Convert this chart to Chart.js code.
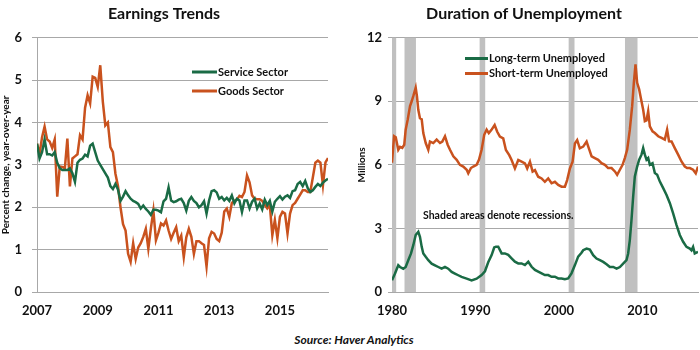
<!DOCTYPE html>
<html>
<head>
<meta charset="utf-8">
<script src="https://cdn.jsdelivr.net/npm/chart.js@4.4.0/dist/chart.umd.min.js"></script>
<style>
  html, body { margin: 0; padding: 0; background: #ffffff; }
  #wrap { position: relative; width: 700px; height: 350px; overflow: hidden; }
  #c1 { position: absolute; left: 0; top: 0; }
  #c2 { position: absolute; left: 350px; top: 0; }
  #source { position: absolute; left: 4px; top: 332px; width: 700px; text-align: center;
            font: italic bold 12px Lato, "Open Sans", sans-serif; color: #111; }
</style>
</head>
<body>
<div id="wrap">
  <canvas id="c1" width="350" height="320" style="width:350px;height:320px"></canvas>
  <canvas id="c2" width="350" height="320" style="width:350px;height:320px"></canvas>
  <div id="source">Source: Haver Analytics</div>
</div>
<script>
// ---------- Earnings Trends (monthly, Jan 2007 - Aug 2016) ----------
const earnStartYear = 2007;
const serviceSector = [
  3.50,3.15,3.30,3.60,3.25,3.25,3.22,3.30,3.05,2.92,2.88,2.88,
  2.88,2.92,2.80,2.60,3.05,3.12,3.15,3.24,3.20,3.45,3.50,3.30,
  3.10,3.00,2.90,2.80,2.70,2.50,2.43,2.55,2.42,2.15,2.25,2.38,
  2.28,2.20,2.15,2.12,2.08,1.97,2.04,1.96,1.90,1.82,1.94,1.94,
  1.92,1.88,2.14,2.20,2.47,2.16,2.12,2.14,2.18,2.20,2.10,1.92,
  2.15,2.24,2.15,2.10,2.00,2.05,2.14,1.85,2.16,2.38,2.40,2.35,
  2.20,2.24,2.16,2.22,2.15,2.28,2.09,2.20,2.16,1.89,2.16,2.16,
  1.97,2.13,2.20,1.97,2.09,1.95,2.18,2.05,2.15,1.90,2.13,2.20,
  2.26,2.18,2.25,2.28,2.22,2.38,2.40,2.55,2.60,2.50,2.62,2.45,
  2.36,2.40,2.48,2.55,2.50,2.58,2.63,2.67
];
const goodsSector = [
  3.50,3.26,3.65,3.90,3.60,3.55,3.40,3.60,2.25,2.96,2.95,2.92,
  3.62,2.49,3.15,3.20,3.25,3.70,3.60,4.35,4.64,4.45,5.08,5.05,
  4.84,5.35,4.50,3.93,4.00,3.42,3.30,2.79,2.50,2.00,1.60,1.45,
  0.90,0.71,1.15,0.78,1.05,1.15,1.30,1.49,1.02,1.50,1.92,1.22,
  1.40,1.62,1.57,1.69,1.45,1.25,1.40,1.53,1.20,1.33,0.82,1.29,
  1.49,1.30,0.90,1.20,1.20,1.15,1.11,0.60,1.27,1.42,1.38,1.25,
  1.20,1.40,1.90,1.97,1.77,2.10,2.15,2.18,2.27,2.24,2.36,2.75,
  2.59,2.28,2.20,2.19,2.19,2.15,2.05,1.97,2.05,1.34,1.70,1.27,
  1.77,1.89,1.85,1.38,1.85,2.05,2.10,2.20,2.30,2.40,2.40,2.36,
  2.36,2.70,3.05,3.10,3.05,2.52,3.06,3.16
];
const earnTicksX = [2007, 2009, 2011, 2013, 2015];
const earnTicksY = [0, 1, 2, 3, 4, 5, 6];

// ---------- Duration of Unemployment (millions) ----------
const shortYears = [
  1980.0,1980.25,1980.45,1980.75,1980.96,1981.23,1981.47,1981.64,1981.88,1982.16,
  1982.36,1982.55,1982.84,1982.99,1983.15,1983.35,1983.56,1983.75,1984.04,1984.35,
  1984.55,1984.95,1985.35,1985.75,1986.03,1986.35,1986.67,1986.95,1987.35,1987.75,
  1988.14,1988.54,1988.95,1989.14,1989.46,1989.74,1990.14,1990.42,1990.74,1991.05,
  1991.34,1991.6,1991.9,1992.3,1992.61,1992.93,1993.33,1993.65,1994.05,1994.33,
  1994.73,1995.13,1995.53,1995.93,1996.2,1996.53,1996.85,1997.13,1997.52,1997.93,
  1998.32,1998.72,1999.12,1999.52,1999.92,2000.32,2000.72,2000.99,2001.32,2001.64,
  2001.92,2002.19,2002.51,2002.91,2003.32,2003.51,2003.92,2004.31,2004.71,2005.11,
  2005.51,2005.9,2006.31,2006.71,2006.98,2007.31,2007.63,2007.9,2008.18,2008.5,
  2008.78,2008.98,2009.18,2009.38,2009.62,2009.82,2010.1,2010.3,2010.5,2010.7,
  2010.9,2011.22,2011.5,2011.9,2012.3,2012.69,2012.97,2013.2,2013.5,2013.89,
  2014.29,2014.69,2015.09,2015.37,2015.69,2016.08,2016.4,2016.67
];
const shortTerm = [
  6.10,7.35,7.30,6.71,6.85,6.80,6.95,7.66,8.13,8.77,
  9.00,9.24,9.64,9.24,8.60,8.20,8.15,7.50,7.03,6.71,
  7.10,7.03,7.19,7.03,7.10,7.35,6.95,6.71,6.40,6.24,
  6.00,5.92,5.77,5.60,5.85,5.92,6.00,6.24,6.71,7.42,
  7.66,7.50,7.64,7.88,7.56,7.33,7.25,6.70,6.46,6.23,
  5.83,6.23,6.15,6.07,5.83,6.15,5.68,5.75,5.44,5.36,
  5.20,5.36,5.13,5.20,5.05,4.97,4.97,5.28,5.83,6.15,
  7.01,7.17,6.78,6.86,7.10,6.87,6.40,6.32,6.24,6.08,
  6.00,5.85,5.85,5.69,5.53,5.77,6.00,6.32,6.71,7.66,
  8.77,9.87,10.74,9.87,9.56,9.16,8.60,8.06,8.10,8.53,
  7.82,7.58,7.50,7.35,7.27,7.19,7.66,7.11,7.10,6.79,
  6.48,6.16,5.92,5.85,5.85,5.77,5.60,5.92
];
const longYears = [
  1980.0,1980.36,1980.75,1980.96,1981.35,1981.64,1981.95,1982.28,1982.55,1982.84,
  1983.15,1983.35,1983.56,1983.75,1984.04,1984.35,1984.75,1985.15,1985.55,1985.95,
  1986.35,1986.74,1987.15,1987.54,1987.94,1988.34,1988.95,1989.54,1990.14,1990.74,
  1991.14,1991.53,1991.94,1992.25,1992.46,1992.73,1993.14,1993.53,1993.93,1994.33,
  1994.73,1995.13,1995.53,1995.93,1996.33,1996.73,1997.13,1997.52,1997.93,1998.32,
  1998.72,1999.12,1999.52,1999.92,2000.32,2000.72,2001.11,2001.51,2001.92,2002.31,
  2002.71,2002.91,2003.32,2003.71,2004.11,2004.51,2004.91,2005.31,2005.71,2006.11,
  2006.51,2006.91,2007.31,2007.7,2008.1,2008.3,2008.5,2008.7,2008.9,2009.1,
  2009.38,2009.62,2009.9,2010.1,2010.3,2010.5,2010.7,2010.9,2011.22,2011.5,
  2011.78,2012.1,2012.5,2012.9,2013.3,2013.69,2014.1,2014.49,2014.89,2015.29,
  2015.69,2015.89,2016.08,2016.28,2016.67
];
const longTerm = [
  0.55,0.87,1.26,1.18,1.10,1.18,1.50,1.82,2.21,2.69,
  2.84,2.60,2.13,1.82,1.66,1.50,1.34,1.26,1.18,1.10,
  1.18,1.10,0.95,0.87,0.79,0.71,0.63,0.55,0.63,0.80,
  0.98,1.40,1.74,2.10,2.14,2.14,1.82,1.82,1.75,1.59,
  1.43,1.35,1.35,1.27,1.43,1.19,1.04,0.96,0.88,0.80,
  0.80,0.72,0.72,0.64,0.64,0.60,0.64,0.88,1.27,1.67,
  1.85,1.97,2.05,2.00,1.74,1.58,1.50,1.42,1.31,1.18,
  1.18,1.10,1.18,1.34,1.50,1.82,2.45,3.40,4.50,5.45,
  5.92,6.24,6.48,6.79,6.48,6.24,6.32,6.00,6.08,5.61,
  5.53,5.21,4.90,4.58,4.19,3.71,3.16,2.69,2.37,2.13,
  2.05,1.97,2.13,1.82,1.90
];
const recessionStarts = [1980.0, 1981.5, 1990.5, 2001.17, 2007.92];
const recessionEnds   = [1980.5, 1982.87, 1991.17, 2001.87, 2009.42];
const unempTicksX = [1980, 1990, 2000, 2010];
const unempTicksY = [0, 3, 6, 9, 12];

// ---------- styling ----------
const GREEN = '#1A6B45';
const ORANGE = '#C9521E';
const GRID = '#A8A8A8';
const FONT = 'Lato, "Open Sans", sans-serif';

const legendPlugin = {
  id: 'boxLegend',
  afterDraw(chart, args, opts) {
    const ctx = chart.ctx;
    ctx.save();
    opts.order.forEach((di, k) => {
      const ds = chart.data.datasets[di];
      const y = opts.y + k * opts.dy;
      ctx.strokeStyle = ds.borderColor;
      ctx.lineWidth = 3;
      ctx.beginPath();
      ctx.moveTo(opts.x, y);
      ctx.lineTo(opts.x + opts.len, y);
      ctx.stroke();
      ctx.fillStyle = '#111';
      ctx.font = 'bold 11px ' + FONT;
      ctx.textBaseline = 'middle';
      ctx.textAlign = 'left';
      ctx.fillText(ds.label, opts.x + opts.len + 1, y);
    });
    ctx.restore();
  }
};

const recessionPlugin = {
  id: 'recessions',
  beforeDatasetsDraw(chart, args, opts) {
    if (!opts.starts) return;
    const ctx = chart.ctx;
    const xs = chart.scales.x;
    const a = chart.chartArea;
    ctx.save();
    ctx.fillStyle = '#C0C0C0';
    opts.starts.forEach((s, i) => {
      const x1 = xs.getPixelForValue(s);
      const x2 = xs.getPixelForValue(opts.ends[i]);
      ctx.fillRect(x1, a.top, x2 - x1, a.bottom - a.top);
    });
    ctx.fillStyle = '#111';
    ctx.font = 'bold 10.5px ' + FONT;
    ctx.textBaseline = 'middle';
    ctx.textAlign = 'left';
    ctx.fillText(opts.note, opts.noteX, opts.noteY);
    ctx.restore();
  }
};

function baseOptions(cfg) {
  return {
    responsive: false,
    animation: false,
    devicePixelRatio: 1,
    layout: { padding: { left: 0, right: cfg.padRight, top: 0, bottom: 0 } },
    plugins: {
      legend: { display: false },
      tooltip: { enabled: false },
      title: {
        display: true, text: cfg.title, color: '#111',
        font: { family: FONT, size: 16, weight: 'bold' },
        padding: { top: 4, bottom: 14.5 }
      },
      boxLegend: cfg.legend,
      recessions: cfg.recessions || {}
    },
    scales: {
      x: {
        type: 'linear', min: cfg.xMin, max: cfg.xMax,
        afterBuildTicks: s => { s.ticks = cfg.xTicks.map(v => ({ value: v })); },
        afterFit: s => { s.height = 28; },
        grid: { display: false, drawTicks: false },
        border: { display: true, color: GRID, width: 1 },
        ticks: {
          color: '#111', padding: 11, maxRotation: 0, autoSkip: false,
          font: { family: FONT, size: 13, weight: 'bold' },
          callback: v => String(v)
        }
      },
      y: {
        min: cfg.yMin, max: cfg.yMax,
        afterBuildTicks: s => { s.ticks = cfg.yTicks.map(v => ({ value: v })); },
        afterFit: s => { s.width = cfg.yWidth; },
        grid: { color: GRID, lineWidth: 1, tickLength: cfg.tickLen, drawTicks: true },
        border: { display: true, color: GRID, width: 1 },
        title: {
          display: true, text: cfg.yTitle, color: '#111',
          font: { family: FONT, size: 10, weight: 'bold' },
          padding: { top: cfg.yTitlePad, bottom: 0 }
        },
        ticks: {
          color: '#111', padding: cfg.tickPad,
          font: { family: FONT, size: 13, weight: 'bold' },
          callback: v => String(v)
        }
      }
    },
    elements: { point: { radius: 0 }, line: { tension: 0, borderWidth: 2.5 } }
  };
}

const earnX = serviceSector.map((_, i) => earnStartYear + i / 12);

new Chart(document.getElementById('c1'), {
  type: 'line',
  data: {
    datasets: [
      { label: 'Service Sector', borderColor: GREEN, backgroundColor: GREEN,
        data: serviceSector.map((v, i) => ({ x: earnX[i], y: v })) },
      { label: 'Goods Sector', borderColor: ORANGE, backgroundColor: ORANGE,
        data: goodsSector.map((v, i) => ({ x: earnX[i], y: v })) }
    ]
  },
  options: baseOptions({
    title: 'Earnings Trends', padRight: 22,
    xMin: earnStartYear, xMax: earnX[earnX.length - 1], xTicks: earnTicksX,
    yMin: 0, yMax: 6, yTicks: earnTicksY, yWidth: 37, tickLen: 5, tickPad: 10,
    yTitle: 'Percent change, year-over-year', yTitlePad: 0,
    legend: { x: 192, y: 72, dy: 19, len: 25, order: [0, 1] }
  }),
  plugins: [legendPlugin, recessionPlugin]
});

new Chart(document.getElementById('c2'), {
  type: 'line',
  data: {
    datasets: [
      { label: 'Long-term Unemployed', borderColor: GREEN, backgroundColor: GREEN,
        data: longTerm.map((v, i) => ({ x: longYears[i], y: v })) },
      { label: 'Short-term Unemployed', borderColor: ORANGE, backgroundColor: ORANGE,
        data: shortTerm.map((v, i) => ({ x: shortYears[i], y: v })) }
    ]
  },
  options: baseOptions({
    title: 'Duration of Unemployment', padRight: 2,
    xMin: 1980, xMax: shortYears[shortYears.length - 1], xTicks: unempTicksX,
    yMin: 0, yMax: 12, yTicks: unempTicksY, yWidth: 42, tickLen: 4, tickPad: 6,
    yTitle: 'Millions', yTitlePad: 6,
    legend: { x: 115, y: 58.5, dy: 15, len: 23, order: [0, 1] },
    recessions: { starts: recessionStarts, ends: recessionEnds,
                  note: 'Shaded areas denote recessions.', noteX: 73, noteY: 216 }
  }),
  plugins: [legendPlugin, recessionPlugin]
});
</script>
</body>
</html>
